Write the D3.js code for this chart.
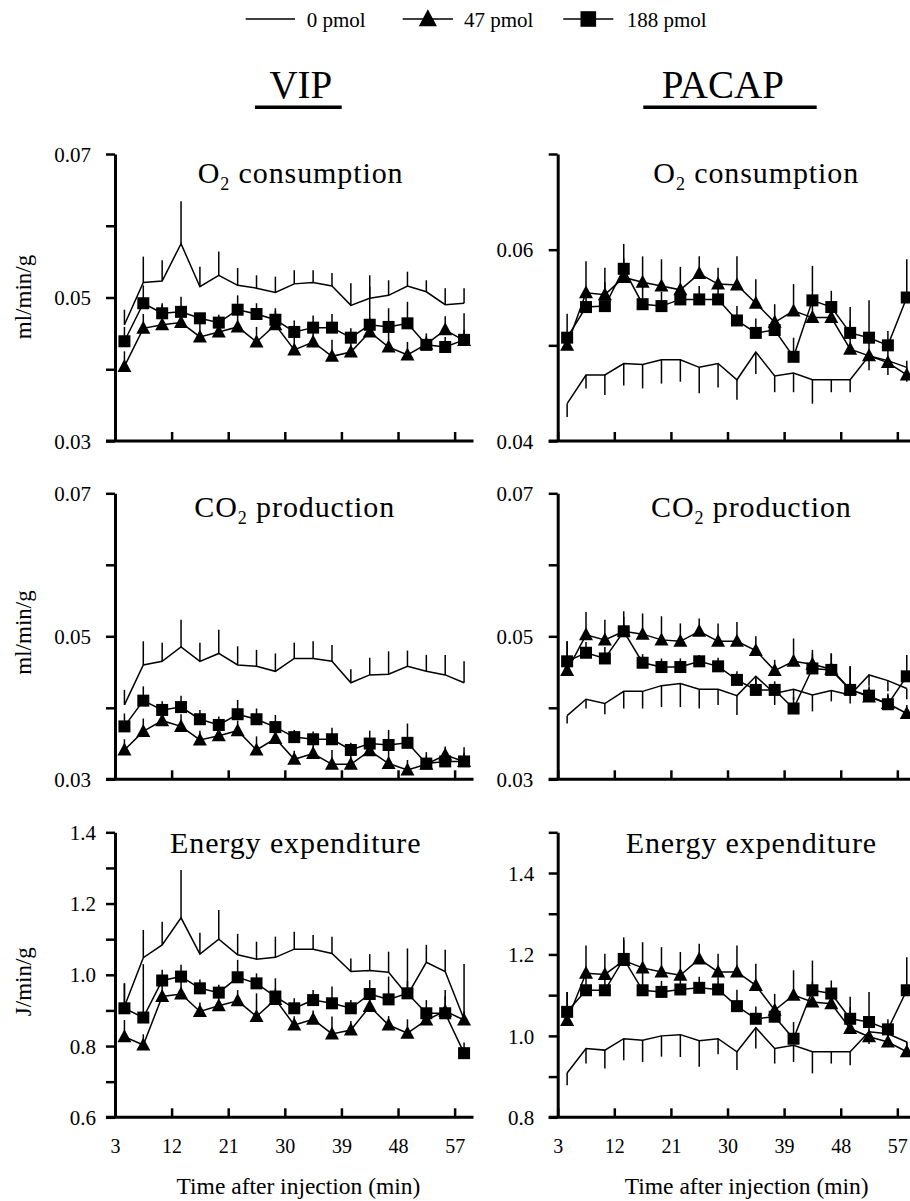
<!DOCTYPE html>
<html>
<head>
<meta charset="utf-8">
<script src="https://cdn.jsdelivr.net/npm/d3@7/dist/d3.min.js"></script>
<style>
  body { margin: 0; background: #fff; }
  svg { display: block; font-family: "Liberation Serif", "Times New Roman", serif; }
  text { white-space: pre; }
</style>
</head>
<body>
<div id="chart"></div>
<script>
// sampling times (min after injection) and axis ticks
const times = [4.5, 7.5, 10.5, 13.5, 16.5, 19.5, 22.5, 25.5, 28.5, 31.5, 34.5, 37.5, 40.5, 43.5, 46.5, 49.5, 52.5, 55.5, 58.5];
const xTicks = [3, 12, 21, 30, 39, 48, 57];
const doses = ["0 pmol", "47 pmol", "188 pmol"];

// VIP - O2 consumption (ml/min/g), means and SE
const vipO2_0   = [0.0462, 0.0521, 0.0523, 0.0575, 0.0515, 0.0531, 0.0517, 0.0513, 0.0507, 0.0519, 0.0521, 0.0516, 0.0489, 0.0499, 0.0503, 0.0516, 0.0508, 0.0490, 0.0492];
const vipO2_47  = [0.0404, 0.0457, 0.0462, 0.0465, 0.0445, 0.0452, 0.0459, 0.0438, 0.0462, 0.0427, 0.0438, 0.0418, 0.0424, 0.0452, 0.0431, 0.0420, 0.0435, 0.0455, 0.0440];
const vipO2_188 = [0.0439, 0.0492, 0.0478, 0.0480, 0.0471, 0.0465, 0.0483, 0.0477, 0.0469, 0.0452, 0.0458, 0.0458, 0.0444, 0.0462, 0.0459, 0.0464, 0.0434, 0.0431, 0.0441];
const vipO2_0_se   = [0.0021, 0.0036, 0.0029, 0.0059, 0.0028, 0.0033, 0.0024, 0.0018, 0.0022, 0.0019, 0.0017, 0.0018, 0.0031, 0.0032, 0.0021, 0.0020, 0.0016, 0.0023, 0.0021];
const vipO2_47_se  = [0.0021, 0.0020, 0.0028, 0.0022, 0.0023, 0.0021, 0.0023, 0.0021, 0.0019, 0.0019, 0.0021, 0.0023, 0.0021, 0.0020, 0.0020, 0.0018, 0.0015, 0.0019, 0.0015];
const vipO2_188_se = [0.0020, 0.0025, 0.0014, 0.0021, 0.0007, 0.0011, 0.0020, 0.0015, 0.0016, 0.0016, 0.0017, 0.0019, 0.0013, 0.0053, 0.0026, 0.0030, 0.0012, 0.0014, 0.0037];

// PACAP - O2 consumption
const pacO2_0   = [0.0439, 0.0469, 0.0469, 0.0481, 0.0480, 0.0485, 0.0485, 0.0477, 0.0481, 0.0464, 0.0493, 0.0468, 0.0471, 0.0464, 0.0464, 0.0464, 0.0489, 0.0484, 0.0477];
const pacO2_47  = [0.0500, 0.0555, 0.0553, 0.0571, 0.0566, 0.0562, 0.0558, 0.0575, 0.0564, 0.0563, 0.0544, 0.0524, 0.0536, 0.0529, 0.0529, 0.0496, 0.0489, 0.0482, 0.0469];
const pacO2_188 = [0.0508, 0.0540, 0.0541, 0.0580, 0.0543, 0.0541, 0.0548, 0.0548, 0.0548, 0.0526, 0.0513, 0.0516, 0.0488, 0.0547, 0.0540, 0.0513, 0.0508, 0.0500, 0.0550];
const pacO2_0_se   = [0.0014, 0.0014, 0.0021, 0.0023, 0.0025, 0.0025, 0.0023, 0.0027, 0.0025, 0.0021, 0.0023, 0.0017, 0.0020, 0.0025, 0.0013, 0.0013, 0.0015, 0.0015, 0.0015];
const pacO2_47_se  = [0.0012, 0.0033, 0.0028, 0.0020, 0.0027, 0.0028, 0.0024, 0.0018, 0.0017, 0.0030, 0.0025, 0.0019, 0.0028, 0.0020, 0.0015, 0.0030, 0.0015, 0.0015, 0.0015];
const pacO2_188_se = [0.0025, 0.0020, 0.0025, 0.0026, 0.0020, 0.0015, 0.0015, 0.0014, 0.0015, 0.0015, 0.0015, 0.0015, 0.0020, 0.0036, 0.0017, 0.0027, 0.0039, 0.0015, 0.0040];

// VIP - CO2 production
const vipCO2_0   = [0.0404, 0.0460, 0.0465, 0.0485, 0.0465, 0.0476, 0.0460, 0.0458, 0.0451, 0.0469, 0.0469, 0.0465, 0.0435, 0.0446, 0.0447, 0.0458, 0.0451, 0.0446, 0.0435];
const vipCO2_47  = [0.0341, 0.0367, 0.0382, 0.0374, 0.0355, 0.0361, 0.0368, 0.0341, 0.0357, 0.0328, 0.0336, 0.0321, 0.0321, 0.0340, 0.0322, 0.0313, 0.0321, 0.0334, 0.0325];
const vipCO2_188 = [0.0374, 0.0410, 0.0397, 0.0401, 0.0384, 0.0376, 0.0391, 0.0384, 0.0373, 0.0359, 0.0356, 0.0356, 0.0341, 0.0350, 0.0348, 0.0351, 0.0322, 0.0325, 0.0325];
const vipCO2_0_se   = [0.0021, 0.0033, 0.0026, 0.0038, 0.0026, 0.0033, 0.0026, 0.0023, 0.0025, 0.0022, 0.0024, 0.0023, 0.0019, 0.0024, 0.0032, 0.0022, 0.0023, 0.0028, 0.0030];
const vipCO2_47_se  = [0.0015, 0.0018, 0.0012, 0.0017, 0.0013, 0.0012, 0.0014, 0.0019, 0.0013, 0.0012, 0.0012, 0.0020, 0.0015, 0.0012, 0.0019, 0.0014, 0.0012, 0.0012, 0.0012];
const vipCO2_188_se = [0.0018, 0.0020, 0.0012, 0.0016, 0.0013, 0.0012, 0.0020, 0.0015, 0.0017, 0.0010, 0.0011, 0.0016, 0.0010, 0.0018, 0.0021, 0.0027, 0.0016, 0.0012, 0.0020];

// PACAP - CO2 production
const pacCO2_0   = [0.0389, 0.0412, 0.0406, 0.0423, 0.0423, 0.0431, 0.0434, 0.0426, 0.0426, 0.0417, 0.0444, 0.0420, 0.0426, 0.0418, 0.0424, 0.0418, 0.0446, 0.0438, 0.0427];
const pacCO2_47  = [0.0452, 0.0502, 0.0495, 0.0507, 0.0503, 0.0495, 0.0493, 0.0507, 0.0493, 0.0493, 0.0480, 0.0452, 0.0465, 0.0461, 0.0454, 0.0426, 0.0415, 0.0406, 0.0392];
const pacCO2_188 = [0.0465, 0.0477, 0.0469, 0.0507, 0.0463, 0.0457, 0.0457, 0.0465, 0.0458, 0.0439, 0.0425, 0.0425, 0.0399, 0.0455, 0.0453, 0.0425, 0.0417, 0.0405, 0.0444];
const pacCO2_0_se   = [0.0011, 0.0013, 0.0015, 0.0024, 0.0024, 0.0030, 0.0033, 0.0027, 0.0022, 0.0027, 0.0019, 0.0016, 0.0015, 0.0023, 0.0015, 0.0012, 0.0015, 0.0015, 0.0015];
const pacCO2_47_se  = [0.0041, 0.0032, 0.0028, 0.0020, 0.0029, 0.0033, 0.0025, 0.0018, 0.0025, 0.0027, 0.0020, 0.0015, 0.0032, 0.0020, 0.0022, 0.0032, 0.0012, 0.0012, 0.0012];
const pacCO2_188_se = [0.0028, 0.0015, 0.0016, 0.0028, 0.0012, 0.0012, 0.0012, 0.0009, 0.0012, 0.0012, 0.0016, 0.0012, 0.0016, 0.0021, 0.0023, 0.0033, 0.0013, 0.0015, 0.0030];

// VIP - Energy expenditure (J/min/g)
const vipEE_0   = [0.911, 1.048, 1.084, 1.160, 1.058, 1.100, 1.056, 1.044, 1.049, 1.072, 1.072, 1.060, 1.009, 1.012, 1.007, 0.943, 1.035, 1.009, 0.875];
const vipEE_47  = [0.826, 0.803, 0.939, 0.946, 0.897, 0.913, 0.927, 0.883, 0.931, 0.859, 0.875, 0.834, 0.845, 0.911, 0.859, 0.836, 0.873, 0.898, 0.873];
const vipEE_188 = [0.906, 0.880, 0.984, 0.995, 0.962, 0.950, 0.993, 0.976, 0.939, 0.906, 0.929, 0.920, 0.906, 0.946, 0.931, 0.948, 0.892, 0.892, 0.780];
const vipEE_0_se   = [0.065, 0.078, 0.065, 0.134, 0.060, 0.082, 0.059, 0.049, 0.058, 0.049, 0.040, 0.047, 0.037, 0.046, 0.058, 0.131, 0.049, 0.061, 0.155];
const vipEE_47_se  = [0.047, 0.030, 0.042, 0.040, 0.025, 0.025, 0.030, 0.065, 0.030, 0.025, 0.025, 0.049, 0.025, 0.035, 0.025, 0.039, 0.025, 0.042, 0.025];
const vipEE_188_se = [0.070, 0.150, 0.030, 0.033, 0.025, 0.022, 0.049, 0.028, 0.051, 0.028, 0.028, 0.047, 0.023, 0.039, 0.064, 0.035, 0.037, 0.065, 0.030];

// PACAP - Energy expenditure
const pacEE_0   = [0.909, 0.969, 0.965, 0.993, 0.989, 1.000, 1.003, 0.988, 0.993, 0.961, 1.020, 0.969, 0.977, 0.961, 0.961, 0.961, 1.010, 1.005, 0.985];
const pacEE_47  = [1.038, 1.154, 1.151, 1.185, 1.167, 1.157, 1.149, 1.189, 1.157, 1.157, 1.124, 1.063, 1.100, 1.083, 1.079, 1.018, 0.998, 0.985, 0.961];
const pacEE_188 = [1.059, 1.112, 1.112, 1.189, 1.112, 1.108, 1.114, 1.118, 1.114, 1.073, 1.042, 1.047, 0.993, 1.112, 1.104, 1.042, 1.034, 1.016, 1.112];
const pacEE_0_se   = [0.030, 0.037, 0.045, 0.053, 0.053, 0.051, 0.055, 0.064, 0.038, 0.045, 0.051, 0.037, 0.041, 0.053, 0.029, 0.033, 0.030, 0.030, 0.030];
const pacEE_47_se  = [0.070, 0.068, 0.051, 0.050, 0.063, 0.061, 0.057, 0.037, 0.045, 0.065, 0.053, 0.040, 0.061, 0.050, 0.035, 0.053, 0.025, 0.025, 0.025];
const pacEE_188_se = [0.049, 0.040, 0.040, 0.053, 0.050, 0.027, 0.025, 0.027, 0.030, 0.040, 0.030, 0.030, 0.041, 0.073, 0.032, 0.054, 0.074, 0.025, 0.081];

const W = 910, H = 1201;
const AXIS_LEN = 358.5;   // pixel length of the x axis, 3 -> 60 min

const svg = d3.select("#chart").append("svg")
    .attr("width", W)
    .attr("height", H);

// panel layout (positions only)
const panels = [
    { left: 115, top: 154, bottom: 441, domain: [0.03, 0.07], ticks: [0.03, 0.04, 0.05, 0.06, 0.07], labels: [0.03, 0.05, 0.07], fmt: ".2f", pad: 15,
      title: ["O", "2", " consumption"], titleX: 197.7, titleY: 183.3, unit: "ml/min/g", unitY: 297,
      series: [vipO2_0, vipO2_47, vipO2_188], se: [vipO2_0_se, vipO2_47_se, vipO2_188_se], zeroDir: 1 },
    { left: 557.7, top: 154, bottom: 441, domain: [0.04, 0.07], ticks: [0.04, 0.05, 0.06, 0.07], labels: [0.04, 0.06], fmt: ".2f", pad: 15.5,
      title: ["O", "2", " consumption"], titleX: 653.3, titleY: 183.3,
      series: [pacO2_0, pacO2_47, pacO2_188], se: [pacO2_0_se, pacO2_47_se, pacO2_188_se], zeroDir: -1 },
    { left: 115, top: 493.3, bottom: 779.3, domain: [0.03, 0.07], ticks: [0.03, 0.04, 0.05, 0.06, 0.07], labels: [0.03, 0.05, 0.07], fmt: ".2f", pad: 15,
      title: ["CO", "2", " production"], titleX: 194.3, titleY: 517.3, unit: "ml/min/g", unitY: 632.5,
      series: [vipCO2_0, vipCO2_47, vipCO2_188], se: [vipCO2_0_se, vipCO2_47_se, vipCO2_188_se], zeroDir: 1 },
    { left: 557.7, top: 493.3, bottom: 779.3, domain: [0.03, 0.07], ticks: [0.03, 0.04, 0.05, 0.06, 0.07], labels: [0.03, 0.05, 0.07], fmt: ".2f", pad: 15.5,
      title: ["CO", "2", " production"], titleX: 651, titleY: 517.3,
      series: [pacCO2_0, pacCO2_47, pacCO2_188], se: [pacCO2_0_se, pacCO2_47_se, pacCO2_188_se], zeroDir: -1 },
    { left: 115, top: 832.3, bottom: 1117.3, domain: [0.6, 1.4], ticks: [0.6, 0.7, 0.8, 0.9, 1.0, 1.1, 1.2, 1.3, 1.4], labels: [0.6, 0.8, 1.0, 1.2, 1.4], fmt: ".1f", pad: 10,
      title: ["Energy expenditure"], titleX: 170, titleY: 853.3, unit: "J/min/g", unitY: 981.7, xLabels: true, xTitleX: 298.5,
      series: [vipEE_0, vipEE_47, vipEE_188], se: [vipEE_0_se, vipEE_47_se, vipEE_188_se], zeroDir: 1 },
    { left: 557.7, top: 832.3, bottom: 1117.3, domain: [0.8, 1.5], ticks: [0.8, 0.9, 1.0, 1.1, 1.2, 1.3, 1.4, 1.5], labels: [0.8, 1.0, 1.2, 1.4], fmt: ".1f", pad: 14.5,
      title: ["Energy expenditure"], titleX: 625.7, titleY: 853.3, xLabels: true, xTitleX: 746.7,
      series: [pacEE_0, pacEE_47, pacEE_188], se: [pacEE_0_se, pacEE_47_se, pacEE_188_se], zeroDir: -1 }
];

const triPath = "M0,-7.5L7,5.5L-7,5.5Z";
const sqSize = 12;

function drawMarker(g, kind, cx, cy, scale) {
    const s = scale || 1;
    if (kind === 1) {
        g.append("path")
            .attr("d", triPath)
            .attr("transform", `translate(${cx},${cy}) scale(${s})`)
            .attr("fill", "#000");
    } else if (kind === 2) {
        g.append("rect")
            .attr("x", cx - sqSize * s / 2)
            .attr("y", cy - sqSize * s / 2)
            .attr("width", sqSize * s)
            .attr("height", sqSize * s)
            .attr("fill", "#000");
    }
}

function drawPanel(p) {
    const x = d3.scaleLinear().domain([3, 60]).range([p.left, p.left + AXIS_LEN]);
    const y = d3.scaleLinear().domain(p.domain).range([p.bottom, p.top]);
    const g = svg.append("g");
    const fmt = d3.format(p.fmt);
    const isLabel = d => p.labels.some(v => Math.abs(v - d) < 1e-9);

    // x axis: inward ticks, baseline extends to the left of the y axis
    const xAxis = g.append("g")
        .attr("transform", `translate(0,${p.bottom})`)
        .call(d3.axisBottom(x).tickValues(xTicks).tickSizeInner(-9).tickSizeOuter(0).tickPadding(22)
            .tickFormat(d => p.xLabels ? d : ""));
    xAxis.select(".domain").remove();
    xAxis.selectAll(".tick line").attr("stroke-width", 2.5);
    xAxis.attr("font-family", null).attr("font-size", null);
    xAxis.selectAll("text").attr("font-size", 20).attr("fill", "#000");
    g.append("line")
        .attr("x1", p.left - 9).attr("x2", p.left + AXIS_LEN)
        .attr("y1", p.bottom).attr("y2", p.bottom)
        .attr("stroke", "#000").attr("stroke-width", 3);

    // y axis
    const yAxis = g.append("g")
        .attr("transform", `translate(${p.left},0)`)
        .call(d3.axisLeft(y).tickValues(p.ticks).tickSizeInner(9).tickSizeOuter(0).tickPadding(p.pad)
            .tickFormat(d => isLabel(d) ? fmt(d) : ""));
    yAxis.attr("font-family", null).attr("font-size", null);
    yAxis.select(".domain").attr("stroke-width", 3);
    yAxis.selectAll(".tick line").attr("stroke-width", 2.5);
    yAxis.selectAll("text").attr("font-size", 21).attr("dy", "0.34em").attr("fill", "#000");

    // panel title
    const t = g.append("text")
        .attr("x", p.titleX).attr("y", p.titleY)
        .attr("font-size", 30)
        .attr("letter-spacing", 0.9);
    t.append("tspan").text(p.title[0]);
    if (p.title.length > 1) {
        t.append("tspan").attr("font-size", 18).attr("dy", 7).text(p.title[1]);
        t.append("tspan").attr("dy", -7).text(p.title[2]);
    }

    if (p.unit) {
        g.append("text")
            .attr("transform", `translate(31,${p.unitY}) rotate(-90)`)
            .attr("text-anchor", "middle")
            .attr("font-size", 23)
            .text(p.unit);
    }
    if (p.xLabels) {
        g.append("text")
            .attr("x", p.xTitleX).attr("y", 1194)
            .attr("text-anchor", "middle")
            .attr("font-size", 23.5)
            .text("Time after injection (min)");
    }

    const line = d3.line().x((d, i) => x(times[i])).y(d => y(d));

    // connecting lines
    p.series.forEach(vals => {
        g.append("path")
            .attr("d", line(vals))
            .attr("fill", "none")
            .attr("stroke", "#000")
            .attr("stroke-width", 1.5);
    });

    // error bars (no caps): 0 pmol goes away from the treated groups
    p.series.forEach((vals, k) => {
        const dir = k === 0 ? p.zeroDir : 1;
        g.selectAll(null)
            .data(vals)
            .enter().append("line")
            .attr("x1", (d, i) => x(times[i]))
            .attr("x2", (d, i) => x(times[i]))
            .attr("y1", d => y(d))
            .attr("y2", (d, i) => y(d + dir * p.se[k][i]))
            .attr("stroke", "#000")
            .attr("stroke-width", 1.5);
    });

    // markers
    [1, 2].forEach(k => {
        p.series[k].forEach((d, i) => drawMarker(g, k, x(times[i]), y(d)));
    });
}

panels.forEach(drawPanel);

// legend
const legend = svg.append("g");
const legendItems = [
    { x1: 245.7, x2: 295, tx: 306.7 },
    { x1: 402.7, x2: 453, tx: 464 },
    { x1: 563.3, x2: 613.3, tx: 626.7 }
];
legendItems.forEach((it, k) => {
    legend.append("line")
        .attr("x1", it.x1).attr("x2", it.x2)
        .attr("y1", 19).attr("y2", 19)
        .attr("stroke", "#000").attr("stroke-width", 1.5);
    drawMarker(legend, k, (it.x1 + it.x2) / 2, 19, 1.3);
    legend.append("text")
        .attr("x", it.tx).attr("y", 26.5)
        .attr("font-size", 21)
        .text(doses[k]);
});

// column headers
[{ label: "VIP", cx: 300.8, u1: 255, u2: 341.7 }, { label: "PACAP", cx: 722.8, u1: 643.3, u2: 816.7 }].forEach(h => {
    svg.append("text")
        .attr("x", h.cx).attr("y", 98)
        .attr("text-anchor", "middle")
        .attr("font-size", 39)
        .text(h.label);
    svg.append("line")
        .attr("x1", h.u1).attr("x2", h.u2)
        .attr("y1", 107.3).attr("y2", 107.3)
        .attr("stroke", "#000").attr("stroke-width", 3.5);
});
</script>
</body>
</html>
